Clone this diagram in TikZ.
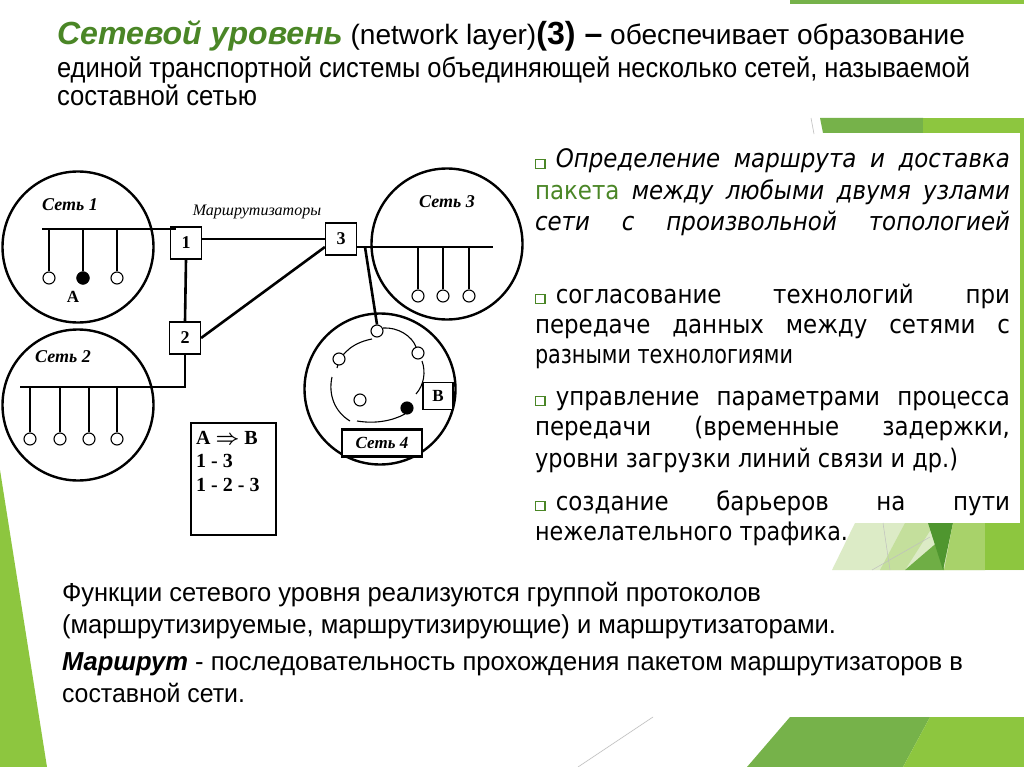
\documentclass[tikz,border=0pt]{standalone}
\usepackage{fontspec}
\setmainfont{Liberation Sans}
\newfontfamily\dfont{Liberation Serif}
\newfontfamily\rfont[FakeStretch=0.9]{DejaVu Sans}
\usetikzlibrary{calc}
\definecolor{tgreen}{RGB}{74,134,38}
\definecolor{gpale}{RGB}{220,235,198}
\definecolor{glt}{RGB}{196,223,156}
\definecolor{gmd}{RGB}{111,174,69}
\definecolor{gdk}{RGB}{79,150,47}
\definecolor{glt2}{RGB}{168,210,106}
\definecolor{gyl}{RGB}{141,198,63}
\definecolor{gmid}{RGB}{118,178,74}
\newcommand\fitto[2]{\resizebox{#1}{\height}{#2}}
\newcommand\jline[1]{\makebox[475pt][s]{#1}}
\newcommand\sqb{{\setlength\fboxsep{0pt}\setlength\fboxrule{1.4pt}\fcolorbox{tgreen}{white}{\rule{0pt}{8pt}\rule{8pt}{0pt}}}\hspace{10pt}}
\begin{document}
\begin{tikzpicture}[x=1pt,y=-1pt,
  txt/.style={anchor=base west, inner sep=0pt, outer sep=0pt},
  rtxt/.style={txt, font=\rfont\fontsize{25.5}{25.5}\selectfont},
  btxt/.style={txt, font=\fontsize{26}{26}\selectfont},
  bus/.style={line width=2.6pt},
  drop/.style={line width=1.1pt},
  wire/.style={line width=1.1pt},
  host/.style={circle, draw, line width=1.1pt, minimum size=12pt, inner sep=0pt, fill=white},
  hostf/.style={host, fill=black},
  netc/.style={circle, draw, line width=2.4pt, minimum size=151pt, inner sep=0pt},
  router/.style={draw, line width=1.2pt, minimum width=31pt, minimum height=32pt, inner sep=0pt, fill=white, font=\dfont\bfseries\fontsize{18}{18}\selectfont},
  netlbl/.style={font=\dfont\bfseries\itshape\fontsize{18}{18}\selectfont, inner sep=0pt},
  dlbl/.style={font=\dfont\bfseries\fontsize{17}{17}\selectfont, inner sep=0pt}
]
\useasboundingbox (0,0) rectangle (1024,767);
\fill[white] (0,0) rectangle (1024,767);
% ---------- green decoration ----------
\fill[gmid] (790,0) rectangle (900,4);
\fill[gyl] (900,0) rectangle (1024,4);
\fill[gmid] (820,118) -- (923,118) -- (923,133) -- (823,133) -- cycle;
\fill[gyl] (923,118) -- (1024,118) -- (1024,133) -- (923,133) -- cycle;
\draw[black!25, line width=0.6pt] (811,118) -- (814,134);
\fill[gyl] (1020,133) rectangle (1024,523);
\fill[gpale] (832,570) -- (855,523) -- (1024,523) -- (1024,570) -- cycle;
\fill[glt] (880,570) -- (905,523) -- (935,523) -- (905,570) -- cycle;
\fill[gmd] (905,570) -- (940,540) -- (944,570) -- cycle;
\fill[gdk] (928,523) -- (953,523) -- (943,570) -- cycle;
\fill[glt2] (953,523) -- (985,523) -- (985,570) -- (944,570) -- cycle;
\fill[gyl] (985,523) -- (1024,523) -- (1024,570) -- (985,570) -- cycle;
\draw[black!25, line width=0.5pt] (883,523) -- (890,570);
\draw[black!25, line width=0.5pt] (872,570) -- (930,537);
\fill[gmid] (790,717) -- (930,717) -- (903,767) -- (747,767) -- cycle;
\fill[gyl] (930,717) -- (1024,717) -- (1024,767) -- (903,767) -- cycle;
\draw[black!25, line width=0.6pt] (578,767) -- (653,717);
\fill[gyl] (0,470) -- (47,767) -- (0,767) -- cycle;
% ---------- title ----------
\node[txt] (t1) at (57,45) {\fitto{908pt}{\fontsize{28}{28}\selectfont{\fontsize{32}{32}\selectfont\bfseries\itshape\color{tgreen}Сетевой уровень} (network layer){\fontsize{32}{32}\selectfont\bfseries(3) –} обеспечивает образование}};
\node[txt] (t2) at (57,78) {\fitto{913pt}{\fontsize{28}{28}\selectfont единой транспортной системы объединяющей несколько сетей, называемой}};
\node[txt] (t3) at (57,106) {\fitto{200pt}{\fontsize{28}{28}\selectfont составной сетью}};
% ---------- networks ----------
\node[netc] (c1) at (78,247) {};
\node[netc] (c2) at (78,405) {};
\node[netc] (c3) at (447,244) {};
\node[netc] (c4) at (380,389) {};
\node[netlbl] (l1) at (70,205) {Сеть 1};
\node[netlbl] (l2) at (63,357) {Сеть 2};
\node[netlbl] (l3) at (447,202) {Сеть 3};
\node[font=\dfont\itshape\fontsize{16}{16}\selectfont, inner sep=0pt] (rl) at (257,212) {Маршрутизаторы};
% routers
\node[router] (r1) at (186,243) {1};
\node[router] (r2) at (185,338) {2};
\node[router] (r3) at (341,239) {3};
% bus 1
\coordinate (b1a) at (42,229);
\coordinate (b1b) at (176,229);
\draw[bus] (b1a) -- (b1b);
\foreach \x [count=\i] in {49,83,117} {
  \node[host] (h1\i) at (\x,278) {};
  \draw[drop] (h1\i.north) -- (h1\i.north |- b1a);
}
\node[hostf] (hA) at (83,278) {};
\node[dlbl] (lA) at (73,297) {A};
% bus 2
\coordinate (b2a) at (20,387);
\draw[bus] (b2a) -- (b2a -| r2.south) -- (r2.south);
\foreach \x [count=\i] in {30,60,89,117} {
  \node[host] (h2\i) at (\x,439) {};
  \draw[drop] (h2\i.north) -- (h2\i.north |- b2a);
}
% router links
\draw[bus] (r1.east |- r3.west) -- (r3.west);
\draw[bus] (r1.south) -- (r2.north);
\draw[bus] (r2.east) -- ([yshift=-8pt]r3.west);
% bus 3
\coordinate (b3b) at (493,247);
\draw[bus] ([yshift=-8pt]r3.east) -- (b3b);
\foreach \x [count=\i] in {418,443,469} {
  \node[host] (h3\i) at (\x,296) {};
  \draw[drop] (h3\i.north) -- (h3\i.north |- b3b);
}
% net 4
\coordinate (b3t) at (365,247);
\node[host] (h4a) at (377,331) {};
\draw[bus] (b3t) -- (h4a.north);
\draw[wire] (383,328) .. controls (398,327) and (412,336) .. (416,347);
\draw[wire] (372,339) .. controls (356,342) and (341,351) .. (337,368);
\draw[wire] (332,377) .. controls (328,395) and (335,412) .. (350,421);
\draw[wire] (357,421) .. controls (375,424) and (392,421) .. (405,414);
\draw[wire] (422,361) .. controls (426,372) and (424,385) .. (416,394);
\node[host] (h4b) at (339,359) {};
\node[host] (h4c) at (418,353) {};
\node[host] (h4d) at (360,400) {};
\node[hostf] (h4e) at (407,408) {};
\node[draw, line width=1.2pt, minimum width=30pt, minimum height=27pt, inner sep=0pt, fill=white, font=\dfont\bfseries\fontsize{17}{17}\selectfont] (bB) at (438,396) {B};
\node[draw, line width=2.6pt, minimum width=80pt, minimum height=27pt, inner sep=0pt, fill=white, font=\dfont\bfseries\itshape\fontsize{17}{17}\selectfont] (l4) at (382,443) {Сеть 4};
% route box
\node[draw, line width=2.8pt, minimum width=85pt, minimum height=112pt, inner sep=0pt] (rt) at (233.5,479) {};
\node[anchor=north west, align=left, inner sep=0pt, font=\dfont\bfseries\fontsize{20}{23.5}\selectfont] (rtt) at (196,431) {A {\boldmath$\Rightarrow$} B\\1 - 3\\1 - 2 - 3};
% ---------- right text ----------
\node[rtxt] (p11) at (535,168) {\jline{\sqb{\itshape Определение маршрута и доставка}}};
\node[rtxt] (p12) at (535,200) {\jline{{\color{tgreen}пакета} {\itshape между любыми двумя узлами}}};
\node[rtxt] (p13) at (535,230) {\jline{\itshape сети с произвольной топологией}};
\node[rtxt] (p21) at (535,303) {\jline{\sqb согласование технологий при}};
\node[rtxt] (p22) at (535,333) {\jline{передаче данных между сетями с}};
\node[rtxt] (p23) at (535,363) {\fitto{258pt}{разными технологиями}};
\node[rtxt] (p31) at (535,405) {\jline{\sqb управление параметрами процесса}};
\node[rtxt] (p32) at (535,435) {\jline{передачи (временные задержки,}};
\node[rtxt] (p33) at (535,467) {\fitto{423pt}{уровни загрузки линий связи и др.)}};
\node[rtxt] (p41) at (535,510) {\jline{\sqb создание барьеров на пути}};
\node[rtxt] (p42) at (535,540) {\fitto{313pt}{нежелательного трафика.}};
% ---------- bottom text ----------
\node[btxt] (f1) at (62,601) {\fitto{699pt}{Функции сетевого уровня реализуются группой протоколов}};
\node[btxt] (f2) at (62,633) {\fitto{774pt}{(маршрутизируемые, маршрутизирующие) и маршрутизаторами.}};
\node[btxt] (f3) at (62,670) {\fitto{901pt}{{\bfseries\itshape Маршрут} - последовательность прохождения пакетом маршрутизаторов в}};
\node[btxt] (f4) at (62,702) {\fitto{183pt}{составной сети.}};
\end{tikzpicture}
\end{document}
